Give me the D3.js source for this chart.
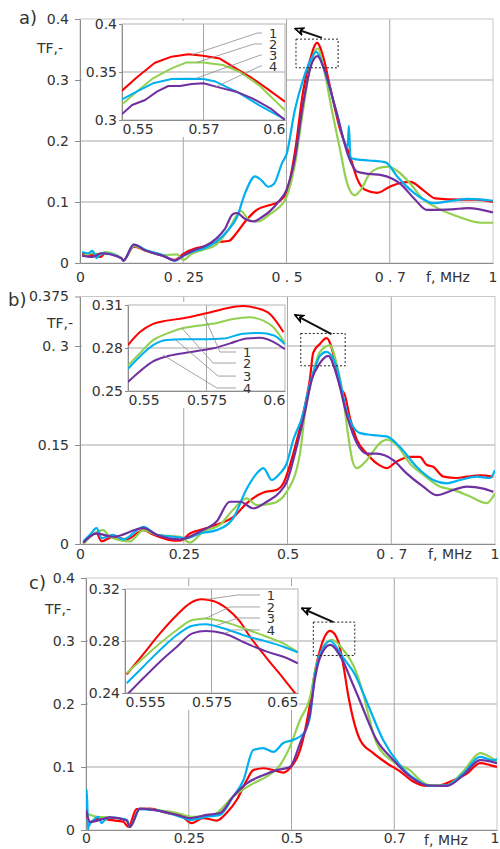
<html>
<head>
<style>
  body { margin: 0; background-color: #ffffff; }
  text { font-family: "DejaVu Sans", Verdana, sans-serif; fill: #333; }
</style>
</head>
<body>
<svg id="chart" width="500" height="849"></svg>
<script src="https://cdn.jsdelivr.net/npm/d3@7"></script>
<script>
// ---------- panel a ----------
let aXTicks = [0, 0.25, 0.5, 0.75, 1]
let aXLabels = ["0", "0 . 25", "0 . 5", "0 . 7", "1"]
let aYTicks = [0, 0.1, 0.2, 0.3, 0.4]
let aYLabels = ["0", "0.1", "0.2", "0.3", "0.4"]
let aRed = [[0.005,0.015],[0.03,0.013],[0.05,0.01],[0.06,0.016],[0.1,0.008],[0.105,0.004],[0.13,0.027],[0.16,0.02],[0.2,0.012],[0.23,0.005],[0.25,0.015],[0.28,0.024],[0.3,0.027],[0.33,0.034],[0.36,0.036],[0.38,0.05],[0.4,0.068],[0.43,0.088],[0.46,0.095],[0.48,0.1],[0.5,0.115],[0.52,0.18],[0.54,0.28],[0.557,0.333],[0.574,0.361],[0.59,0.335],[0.605,0.29],[0.63,0.218],[0.654,0.175],[0.67,0.14],[0.69,0.12],[0.72,0.115],[0.75,0.125],[0.78,0.132],[0.8,0.133],[0.83,0.12],[0.86,0.106],[0.92,0.104],[0.96,0.104],[1.0,0.1]]
let aGreen = [[0.005,0.012],[0.03,0.016],[0.05,0.014],[0.06,0.018],[0.1,0.008],[0.105,0.004],[0.13,0.028],[0.16,0.02],[0.2,0.013],[0.235,0.014],[0.25,0.005],[0.27,0.015],[0.3,0.022],[0.33,0.03],[0.36,0.055],[0.39,0.085],[0.41,0.07],[0.43,0.068],[0.46,0.08],[0.48,0.09],[0.5,0.108],[0.52,0.16],[0.54,0.25],[0.56,0.33],[0.576,0.352],[0.59,0.32],[0.61,0.25],[0.63,0.185],[0.645,0.135],[0.665,0.111],[0.68,0.12],[0.7,0.145],[0.72,0.155],[0.745,0.158],[0.77,0.15],[0.8,0.13],[0.83,0.105],[0.86,0.092],[0.92,0.075],[0.97,0.066],[1.0,0.066]]
let aBlue = [[0.005,0.018],[0.02,0.016],[0.03,0.02],[0.04,0.008],[0.05,0.015],[0.06,0.016],[0.1,0.008],[0.105,0.004],[0.13,0.03],[0.16,0.021],[0.2,0.013],[0.23,0.004],[0.25,0.012],[0.28,0.02],[0.3,0.024],[0.33,0.035],[0.36,0.055],[0.38,0.075],[0.4,0.115],[0.424,0.142],[0.44,0.135],[0.456,0.125],[0.47,0.13],[0.49,0.165],[0.5,0.178],[0.52,0.25],[0.54,0.3],[0.56,0.335],[0.572,0.346],[0.59,0.32],[0.62,0.25],[0.648,0.19],[0.651,0.225],[0.655,0.172],[0.67,0.17],[0.7,0.168],[0.74,0.165],[0.77,0.14],[0.8,0.12],[0.83,0.105],[0.855,0.098],[0.9,0.102],[0.94,0.105],[1.0,0.102]]
let aPurple = [[0.005,0.012],[0.03,0.01],[0.05,0.016],[0.1,0.008],[0.105,0.004],[0.13,0.03],[0.16,0.02],[0.2,0.012],[0.23,0.004],[0.25,0.012],[0.28,0.022],[0.3,0.027],[0.33,0.04],[0.35,0.055],[0.37,0.08],[0.38,0.082],[0.4,0.072],[0.42,0.068],[0.44,0.075],[0.46,0.085],[0.48,0.1],[0.5,0.12],[0.52,0.17],[0.54,0.26],[0.56,0.325],[0.575,0.339],[0.59,0.32],[0.62,0.25],[0.65,0.175],[0.67,0.15],[0.7,0.146],[0.73,0.144],[0.775,0.13],[0.81,0.105],[0.84,0.087],[0.9,0.088],[0.94,0.09],[1.0,0.083]]
let aInXTicks = [0.55, 0.575, 0.6]
let aInXLabels = ["0.55", "0.57", "0.6"]
let aInYTicks = [0.3, 0.35, 0.4]
let aInYLabels = ["0.3", "0.35", "0.4"]
let aInRed = [[0.55,0.3305],[0.5545,0.3443],[0.5601,0.3597],[0.5652,0.366],[0.5703,0.3684],[0.5749,0.367],[0.58,0.364],[0.584,0.3555],[0.5893,0.345],[0.5944,0.333],[0.6,0.319]]
let aInGreen = [[0.55,0.3163],[0.5545,0.3295],[0.5595,0.3434],[0.5652,0.3538],[0.5698,0.36],[0.5749,0.36],[0.581,0.3573],[0.586,0.3503],[0.592,0.3364],[0.6,0.31]]
let aInBlue = [[0.55,0.3216],[0.5545,0.3295],[0.5595,0.3382],[0.5652,0.3427],[0.5703,0.343],[0.575,0.3427],[0.5787,0.34],[0.586,0.328],[0.592,0.3156],[0.6,0.3007]]
let aInPurple = [[0.55,0.3062],[0.5531,0.3156],[0.5571,0.3208],[0.5607,0.3295],[0.5642,0.3354],[0.5678,0.3354],[0.5714,0.3375],[0.575,0.3382],[0.58,0.3337],[0.585,0.3295],[0.59,0.3226],[0.5955,0.3122],[0.6,0.3]]
let aLegendF = 0.5951
let aLegendV = [0.3906, 0.3792, 0.3677, 0.3563]
let aElbowF = [0.5915, 0.5905, 0.5925, 0.5925]
let aTargets = [[0.5715,0.368],[0.573,0.36],[0.5724,0.343],[0.5785,0.334]]
let aBox = [0.523, 0.625, 0.32, 0.367]
let aArrow = [[0.586,0.369],[0.521,0.384]]

// ---------- panel b ----------
let bXTicks = [0, 0.25, 0.5, 0.75, 1]
let bXLabels = ["0", "0.25", "0.5", "0 . 7", "1"]
let bYTicks = [0, 0.15, 0.3, 0.375]
let bYLabels = ["0", "0.15", "0. 3", "0.375"]
let bRed = [[0.008,0.002],[0.04,0.016],[0.052,0.004],[0.08,0.011],[0.112,0.007],[0.153,0.021],[0.177,0.014],[0.217,0.006],[0.241,0.005],[0.265,0.016],[0.305,0.024],[0.337,0.031],[0.37,0.041],[0.402,0.062],[0.442,0.078],[0.474,0.082],[0.49,0.092],[0.514,0.137],[0.538,0.198],[0.554,0.25],[0.562,0.29],[0.578,0.303],[0.594,0.312],[0.614,0.279],[0.627,0.238],[0.638,0.226],[0.651,0.19],[0.667,0.158],[0.691,0.137],[0.715,0.122],[0.739,0.115],[0.763,0.125],[0.795,0.132],[0.819,0.132],[0.835,0.12],[0.851,0.117],[0.876,0.102],[0.908,0.1],[0.932,0.102],[0.964,0.104],[0.996,0.102]]
let bGreen = [[0.008,0.0],[0.056,0.021],[0.072,0.011],[0.12,0.004],[0.153,0.021],[0.185,0.014],[0.241,0.011],[0.265,0.002],[0.297,0.019],[0.337,0.029],[0.369,0.052],[0.402,0.069],[0.426,0.059],[0.466,0.062],[0.498,0.079],[0.53,0.137],[0.542,0.198],[0.558,0.248],[0.578,0.291],[0.602,0.301],[0.618,0.274],[0.634,0.223],[0.645,0.17],[0.657,0.125],[0.667,0.115],[0.691,0.127],[0.723,0.153],[0.739,0.158],[0.763,0.15],[0.795,0.122],[0.827,0.105],[0.867,0.087],[0.9,0.082],[0.94,0.072],[0.98,0.062],[1.0,0.077]]
let bBlue = [[0.008,0.004],[0.024,0.014],[0.04,0.024],[0.052,0.009],[0.08,0.014],[0.104,0.007],[0.153,0.026],[0.185,0.014],[0.225,0.011],[0.257,0.009],[0.289,0.016],[0.329,0.021],[0.369,0.039],[0.402,0.084],[0.426,0.107],[0.442,0.115],[0.462,0.097],[0.482,0.107],[0.498,0.122],[0.514,0.158],[0.538,0.198],[0.55,0.233],[0.57,0.274],[0.578,0.285],[0.594,0.291],[0.618,0.269],[0.643,0.2],[0.675,0.168],[0.707,0.165],[0.739,0.163],[0.771,0.147],[0.811,0.117],[0.851,0.097],[0.884,0.092],[0.916,0.097],[0.956,0.102],[0.988,0.1],[1.0,0.112]]
let bPurple = [[0.008,0.002],[0.04,0.016],[0.08,0.011],[0.153,0.024],[0.185,0.014],[0.241,0.007],[0.289,0.019],[0.329,0.034],[0.361,0.064],[0.386,0.064],[0.418,0.054],[0.45,0.064],[0.482,0.079],[0.498,0.094],[0.522,0.147],[0.542,0.2],[0.558,0.248],[0.578,0.274],[0.598,0.285],[0.622,0.248],[0.643,0.195],[0.667,0.153],[0.691,0.137],[0.715,0.137],[0.755,0.127],[0.787,0.107],[0.827,0.087],[0.859,0.074],[0.9,0.082],[0.932,0.087],[0.972,0.084],[0.996,0.079]]
let bInXTicks = [0.55, 0.575, 0.6]
let bInXLabels = ["0.55", "0.575", "0.6"]
let bInYTicks = [0.25, 0.28, 0.31]
let bInYLabels = ["0.25", "0.28", "0.31"]
let bInRed = [[0.55,0.282],[0.5538,0.2911],[0.558,0.2968],[0.5623,0.2991],[0.5676,0.3007],[0.5729,0.3032],[0.5772,0.3054],[0.5814,0.3078],[0.5867,0.3093],[0.591,0.3078],[0.5952,0.3037],[0.5995,0.2911]]
let bInGreen = [[0.55,0.2677],[0.5538,0.2764],[0.558,0.2855],[0.5623,0.29],[0.5676,0.2939],[0.5729,0.2957],[0.5783,0.2975],[0.5835,0.3003],[0.5888,0.3014],[0.5931,0.2991],[0.5963,0.2945],[0.6,0.2832]]
let bInBlue = [[0.55,0.2655],[0.5538,0.2741],[0.558,0.282],[0.5623,0.2855],[0.5676,0.2861],[0.575,0.2861],[0.5804,0.2866],[0.5867,0.29],[0.592,0.2905],[0.5963,0.2889],[0.6,0.2825]]
let bInPurple = [[0.55,0.2563],[0.5538,0.2638],[0.558,0.2707],[0.5623,0.2741],[0.5676,0.2764],[0.5729,0.2782],[0.5772,0.2798],[0.5825,0.2832],[0.5878,0.2866],[0.592,0.2871],[0.5963,0.2843],[0.6,0.2791]]
let bLegendF = 0.5866
let bLegendV = [0.2772, 0.2695, 0.2604, 0.2521]
let bElbowF = [0.5793, 0.5771, 0.5787, 0.5783]
let bTargets = [[0.574,0.3035],[0.5671,0.294],[0.565,0.286],[0.5612,0.275]]
let bBox = [0.532, 0.639, 0.27, 0.319]
let bArrow = [[0.606,0.318],[0.518,0.347]]

// ---------- panel c ----------
let cXTicks = [0, 0.25, 0.5, 0.75, 1]
let cXLabels = ["0", "0.25", "0.5", "0.7", "1"]
let cYTicks = [0, 0.1, 0.2, 0.3, 0.4]
let cYLabels = ["0", "0.1", "0.2", "0.3", "0.4"]
let cRed = [[0,0.024],[0.01,0.012],[0.034,0.019],[0.058,0.016],[0.091,0.013],[0.103,0.005],[0.123,0.033],[0.156,0.034],[0.196,0.027],[0.229,0.024],[0.257,0.011],[0.285,0.019],[0.318,0.015],[0.342,0.027],[0.367,0.048],[0.391,0.079],[0.407,0.095],[0.431,0.098],[0.456,0.095],[0.48,0.091],[0.496,0.098],[0.521,0.127],[0.545,0.2],[0.557,0.251],[0.569,0.285],[0.594,0.316],[0.614,0.299],[0.626,0.262],[0.638,0.214],[0.667,0.143],[0.699,0.122],[0.732,0.106],[0.764,0.093],[0.796,0.077],[0.829,0.07],[0.861,0.071],[0.894,0.079],[0.926,0.089],[0.959,0.106],[0.983,0.103],[1.0,0.1]]
let cGreen = [[0,0.027],[0.026,0.021],[0.058,0.02],[0.099,0.016],[0.107,0.005],[0.131,0.034],[0.164,0.032],[0.221,0.027],[0.261,0.021],[0.31,0.024],[0.358,0.053],[0.407,0.074],[0.44,0.085],[0.472,0.103],[0.496,0.132],[0.521,0.175],[0.545,0.21],[0.56,0.26],[0.578,0.29],[0.598,0.302],[0.626,0.286],[0.65,0.262],[0.675,0.215],[0.69,0.175],[0.707,0.138],[0.748,0.108],[0.788,0.095],[0.813,0.079],[0.837,0.071],[0.878,0.071],[0.918,0.093],[0.959,0.122],[0.983,0.116],[1.0,0.108]]
let cBlue = [[0,0.027],[0.002,0.064],[0.005,0.0],[0.006,0.005],[0.018,0.016],[0.03,0.021],[0.038,0.011],[0.046,0.016],[0.058,0.02],[0.099,0.016],[0.107,0.005],[0.131,0.033],[0.164,0.032],[0.229,0.021],[0.253,0.016],[0.294,0.021],[0.326,0.024],[0.358,0.053],[0.383,0.079],[0.407,0.127],[0.431,0.13],[0.456,0.124],[0.48,0.138],[0.504,0.143],[0.529,0.153],[0.545,0.18],[0.557,0.246],[0.569,0.278],[0.594,0.3],[0.626,0.273],[0.655,0.246],[0.679,0.21],[0.723,0.143],[0.764,0.103],[0.805,0.079],[0.837,0.07],[0.878,0.071],[0.918,0.09],[0.959,0.116],[0.991,0.111],[1.0,0.112]]
let cPurple = [[0,0.032],[0.01,0.013],[0.034,0.016],[0.058,0.02],[0.099,0.015],[0.107,0.005],[0.131,0.034],[0.164,0.032],[0.221,0.024],[0.253,0.019],[0.294,0.024],[0.326,0.027],[0.358,0.053],[0.391,0.074],[0.431,0.087],[0.464,0.095],[0.496,0.1],[0.521,0.138],[0.545,0.185],[0.557,0.24],[0.569,0.273],[0.594,0.294],[0.626,0.267],[0.647,0.235],[0.667,0.204],[0.707,0.143],[0.748,0.111],[0.788,0.085],[0.829,0.071],[0.878,0.07],[0.918,0.087],[0.959,0.111],[0.983,0.109],[1.0,0.106]]
let cInXTicks = [0.555, 0.575, 0.595]
let cInXLabels = ["0.555", "0.575", "0.65"]
let cInYTicks = [0.24, 0.28, 0.32]
let cInYLabels = ["0.24", "0.28", "0.32"]
let cInRed = [[0.5554,0.2544],[0.5592,0.2698],[0.5631,0.2859],[0.567,0.3],[0.57,0.309],[0.5727,0.3121],[0.5754,0.3108],[0.5785,0.3051],[0.5816,0.2949],[0.5839,0.2833],[0.5878,0.2667],[0.5916,0.2513],[0.595,0.237]]
let cInGreen = [[0.5554,0.2552],[0.5592,0.2667],[0.5631,0.2782],[0.567,0.2885],[0.5706,0.2962],[0.5737,0.2974],[0.5777,0.2949],[0.5835,0.2885],[0.5878,0.2833],[0.5916,0.2782],[0.595,0.2713]]
let cInBlue = [[0.5554,0.2475],[0.5592,0.2602],[0.5631,0.2731],[0.567,0.2846],[0.5706,0.2918],[0.5737,0.2928],[0.5777,0.2898],[0.5835,0.2833],[0.5878,0.2795],[0.5916,0.2756],[0.595,0.2713]]
let cInPurple = [[0.5554,0.2385],[0.5592,0.2513],[0.5631,0.2641],[0.567,0.2756],[0.5706,0.2859],[0.5737,0.2877],[0.5777,0.2859],[0.5835,0.2775],[0.5878,0.2718],[0.5916,0.2679],[0.595,0.2628]]
let cLegendF = 0.5878
let cLegendV = [0.3154, 0.3062, 0.2977, 0.2885]
let cElbowF = [0.5811, 0.5793, 0.5811, 0.58]
let cTargets = [[0.5739,0.312],[0.5735,0.2972],[0.5758,0.2915],[0.578,0.2858]]
let cBox = [0.553, 0.654, 0.277, 0.33]
let cArrow = [[0.602,0.33],[0.525,0.352]]

let colors = ["#ff0000", "#92d050", "#00b0f0", "#7030a0"]
let legendNames = ["1", "2", "3", "4"]

let svg = d3.select("#chart")

svg.append("defs").append("marker")
    .attr("id", "head")
    .attr("viewBox", "0 0 10 10")
    .attr("refX", 9).attr("refY", 5)
    .attr("markerUnits", "userSpaceOnUse")
    .attr("markerWidth", 10).attr("markerHeight", 10)
    .attr("orient", "auto")
    .append("path")
    .attr("d", "M1,1.5 L9,5 L1,8.5 L3.5,5 Z")
    .attr("fill", "#fff")
    .attr("stroke", "#000")
    .attr("stroke-width", 1.6)
    .attr("stroke-linejoin", "miter")

let panels = [
    { name: "a)", id: "a", xRange: [80, 493], yDomain: [0, 0.4], yRange: [263, 19], gridY: [0.1, 0.2, 0.3],
      xTicks: aXTicks, xLabels: aXLabels, yTicks: aYTicks, yLabels: aYLabels, xPad: 9,
      series: [aRed, aGreen, aBlue, aPurple], box: aBox, arrow: aArrow,
      nameAt: [19, 24], tfAt: [37, 53], unitAt: [448, 282],
      inset: { xDomain: [0.55, 0.6], xRange: [122, 285], yDomain: [0.3, 0.4], yRange: [120, 24], gridX: [0.575], gridY: [0.35],
               xTicks: aInXTicks, xLabels: aInXLabels, yTicks: aInYTicks, yLabels: aInYLabels,
               series: [aInRed, aInGreen, aInBlue, aInPurple], curve: d3.curveLinear,
               legendF: aLegendF, legendV: aLegendV, elbowF: aElbowF, targets: aTargets } },
    { name: "b)", id: "b", xRange: [80, 495], yDomain: [0, 0.375], yRange: [544, 296.5], gridY: [0.15, 0.3],
      xTicks: bXTicks, xLabels: bXLabels, yTicks: bYTicks, yLabels: bYLabels, xPad: 5,
      series: [bRed, bGreen, bBlue, bPurple], box: bBox, arrow: bArrow,
      nameAt: [8, 306], tfAt: [47, 328], unitAt: [450, 559],
      inset: { xDomain: [0.55, 0.6], xRange: [128, 285], yDomain: [0.25, 0.31], yRange: [391, 305], gridX: [0.575], gridY: [0.28],
               xTicks: bInXTicks, xLabels: bInXLabels, yTicks: bInYTicks, yLabels: bInYLabels,
               series: [bInRed, bInGreen, bInBlue, bInPurple], curve: d3.curveMonotoneX,
               legendF: bLegendF, legendV: bLegendV, elbowF: bElbowF, targets: bTargets } },
    { name: "c)", id: "c", xRange: [86, 497], yDomain: [0, 0.4], yRange: [830, 578], gridY: [0.1, 0.2, 0.3],
      xTicks: cXTicks, xLabels: cXLabels, yTicks: cYTicks, yLabels: cYLabels, xPad: 3,
      series: [cRed, cGreen, cBlue, cPurple], box: cBox, arrow: cArrow,
      nameAt: [29, 589], tfAt: [45, 614], unitAt: [446, 845],
      inset: { xDomain: [0.555, 0.595], xRange: [125, 298], yDomain: [0.24, 0.32], yRange: [693, 589], gridX: [0.575], gridY: [0.28],
               xTicks: cInXTicks, xLabels: cInXLabels, yTicks: cInYTicks, yLabels: cInYLabels,
               series: [cInRed, cInGreen, cInBlue, cInPurple], curve: d3.curveMonotoneX,
               legendF: cLegendF, legendV: cLegendV, elbowF: cElbowF, targets: cTargets } }
]

function styleAxis(g) {
    g.attr("font-family", "DejaVu Sans, Verdana, sans-serif")
     .attr("font-size", 14)
     .attr("color", "#333")
    g.select(".domain").attr("stroke", "#8c8c8c")
    g.selectAll(".tick line").attr("stroke", "#8c8c8c")
}

panels.forEach(p => {
    let g = svg.append("g")
    let x = d3.scaleLinear().domain([0, 1]).range(p.xRange)
    let y = d3.scaleLinear().domain(p.yDomain).range(p.yRange)
    let top = y(p.yDomain[1])

    // grid
    g.selectAll(".vg").data([0.25, 0.5, 0.75]).enter().append("line")
        .attr("x1", d => x(d)).attr("x2", d => x(d))
        .attr("y1", top).attr("y2", y(0))
        .attr("stroke", "#a6a6a6").attr("stroke-width", 1)
    g.selectAll(".hg").data(p.gridY).enter().append("line")
        .attr("x1", x(0)).attr("x2", x(1))
        .attr("y1", d => y(d)).attr("y2", d => y(d))
        .attr("stroke", "#a6a6a6").attr("stroke-width", 1)
    g.append("rect")
        .attr("x", x(0)).attr("y", top)
        .attr("width", x(1) - x(0)).attr("height", y(0) - top)
        .attr("fill", "none").attr("stroke", "#c8c8c8")

    // axes
    g.append("g")
        .attr("transform", "translate(" + x(0) + ",0)")
        .call(d3.axisLeft(y).tickValues(p.yTicks).tickFormat((d, i) => p.yLabels[i]).tickSize(5).tickSizeOuter(0).tickPadding(6))
        .call(styleAxis)
    let xAxis = g.append("g")
        .attr("transform", "translate(0," + y(0) + ")")
        .call(d3.axisBottom(x).tickValues(p.xTicks).tickFormat((d, i) => p.xLabels[i]).tickSize(0).tickPadding(p.xPad))
        .call(styleAxis)
    // keep the last label "1" inside the page
    xAxis.selectAll(".tick text").filter((d, i) => i == p.xTicks.length - 1)
        .attr("text-anchor", "end").attr("dx", Math.min(4, 499 - x(1)))

    // main curves
    g.append("clipPath").attr("id", "clip" + p.id).append("rect")
        .attr("x", x(0)).attr("y", top).attr("width", x(1) - x(0)).attr("height", y(0) - top)
    let line = d3.line().x(d => x(d[0])).y(d => y(d[1])).curve(d3.curveMonotoneX)
    p.series.forEach((s, i) => {
        g.append("path").datum(s)
            .attr("d", line)
            .attr("clip-path", "url(#clip" + p.id + ")")
            .attr("fill", "none")
            .attr("stroke", colors[i])
            .attr("stroke-width", 2.2)
            .attr("stroke-linejoin", "round")
    })

    // zoom box + arrow
    g.append("rect")
        .attr("x", x(p.box[0])).attr("y", y(p.box[3]))
        .attr("width", x(p.box[1]) - x(p.box[0])).attr("height", y(p.box[2]) - y(p.box[3]))
        .attr("fill", "none").attr("stroke", "#222").attr("stroke-width", 1)
        .attr("stroke-dasharray", "2,2")
    g.append("line")
        .attr("x1", x(p.arrow[0][0])).attr("y1", y(p.arrow[0][1]))
        .attr("x2", x(p.arrow[1][0])).attr("y2", y(p.arrow[1][1]))
        .attr("stroke", "#111").attr("stroke-width", 2)
        .attr("marker-end", "url(#head)")

    // inset
    let q = p.inset
    let ix = d3.scaleLinear().domain(q.xDomain).range(q.xRange)
    let iy = d3.scaleLinear().domain(q.yDomain).range(q.yRange)
    let ig = g.append("g")
    ig.append("rect")
        .attr("x", x(0) + 2).attr("y", q.yRange[1] - 3)
        .attr("width", q.xRange[1] + 1 - x(0) - 2).attr("height", q.yRange[0] - q.yRange[1] + 20)
        .attr("fill", "#fff")
    ig.selectAll(".ivg").data(q.gridX).enter().append("line")
        .attr("x1", d => ix(d)).attr("x2", d => ix(d))
        .attr("y1", q.yRange[1]).attr("y2", q.yRange[0])
        .attr("stroke", "#a6a6a6")
    ig.selectAll(".ihg").data(q.gridY).enter().append("line")
        .attr("x1", q.xRange[0]).attr("x2", q.xRange[1])
        .attr("y1", d => iy(d)).attr("y2", d => iy(d))
        .attr("stroke", "#a6a6a6")
    ig.append("rect")
        .attr("x", q.xRange[0]).attr("y", q.yRange[1])
        .attr("width", q.xRange[1] - q.xRange[0]).attr("height", q.yRange[0] - q.yRange[1])
        .attr("fill", "none").attr("stroke", "#b4b4b4")
    ig.append("g")
        .attr("transform", "translate(" + q.xRange[0] + ",0)")
        .call(d3.axisLeft(iy).tickValues(q.yTicks).tickFormat((d, i) => q.yLabels[i]).tickSize(3).tickSizeOuter(0).tickPadding(2))
        .call(styleAxis)
    let ixAxis = ig.append("g")
        .attr("transform", "translate(0," + q.yRange[0] + ")")
        .call(d3.axisBottom(ix).tickValues(q.xTicks).tickFormat((d, i) => q.xLabels[i]).tickSize(0).tickSizeOuter(0).tickPadding(4))
        .call(styleAxis)
    ixAxis.selectAll(".tick text").attr("text-anchor", (d, i) => i == 0 ? "start" : (i == 2 ? "end" : "middle"))

    ig.append("clipPath").attr("id", "iclip" + p.id).append("rect")
        .attr("x", q.xRange[0]).attr("y", q.yRange[1])
        .attr("width", q.xRange[1] - q.xRange[0]).attr("height", q.yRange[0] - q.yRange[1])
    let iline = d3.line().x(d => ix(d[0])).y(d => iy(d[1])).curve(q.curve)
    q.series.forEach((s, i) => {
        ig.append("path").datum(s)
            .attr("d", iline)
            .attr("clip-path", "url(#iclip" + p.id + ")")
            .attr("fill", "none")
            .attr("stroke", colors[i])
            .attr("stroke-width", 2)
            .attr("stroke-linejoin", "round")
    })

    // leader lines + legend numbers
    legendNames.forEach((n, i) => {
        let lx = ix(q.legendF), ly = iy(q.legendV[i])
        ig.append("polyline")
            .attr("points", [[lx - 7, ly], [ix(q.elbowF[i]), ly], [ix(q.targets[i][0]), iy(q.targets[i][1])]].join(" "))
            .attr("fill", "none").attr("stroke", "#8c8c8c").attr("stroke-width", 0.8)
        ig.append("text")
            .attr("x", lx).attr("y", ly).attr("dy", "0.36em")
            .attr("font-size", 13)
            .text(n)
    })

    // titles
    g.append("text").attr("x", p.nameAt[0]).attr("y", p.nameAt[1])
        .attr("font-size", 18).text(p.name)
    g.append("text").attr("x", p.tfAt[0]).attr("y", p.tfAt[1])
        .attr("font-size", 14).text("TF,-")
    g.append("text").attr("x", p.unitAt[0]).attr("y", p.unitAt[1])
        .attr("text-anchor", "middle").attr("font-size", 14).text("f, MHz")
})
</script>
</body>
</html>
